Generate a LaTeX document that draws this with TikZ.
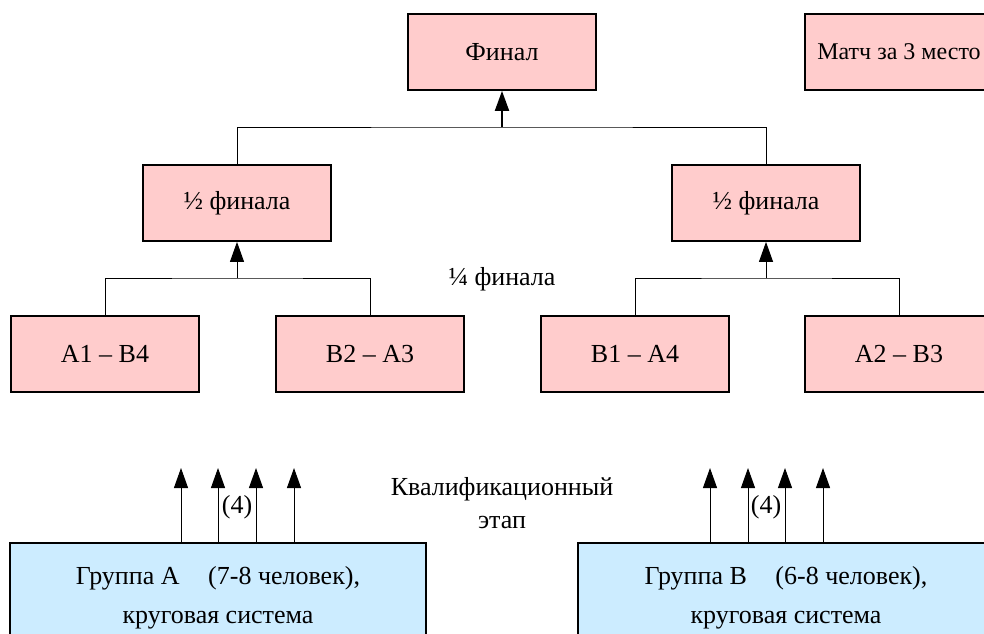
\documentclass[tikz,border=0pt]{standalone}
\usepackage{fontspec}
\setmainfont{Liberation Serif}
\newfontfamily\tnr{Liberation Serif}
\usetikzlibrary{arrows.meta}
\definecolor{pinkfill}{HTML}{FFCCCC}
\definecolor{bluefill}{HTML}{CCECFF}
\tikzset{
  pinkbox/.style={draw=black, line width=1.8pt, fill=pinkfill, minimum width=188pt, minimum height=76pt, inner sep=0pt, font=\tnr\fontsize{26}{30}\selectfont},
  bluebox/.style={draw=black, line width=1.8pt, fill=bluefill, minimum width=416pt, minimum height=110pt, inner sep=0pt, align=center, font=\tnr\fontsize{26}{39}\selectfont},
  conn/.style={line width=1pt},
  arr/.style={line width=1pt, -{Triangle[length=20pt,width=14pt]}},
  arrthick/.style={line width=2pt, -{Triangle[length=20pt,width=14pt]}},
  lbl/.style={inner sep=0pt, font=\tnr\fontsize{26}{30}\selectfont, align=center}
}
\begin{document}
\begin{tikzpicture}[x=1pt,y=-1pt]
\useasboundingbox (0,0) rectangle (984,633);
\clip (0,0) rectangle (984,633);
\fill[white] (0,0) rectangle (984,633);
% nodes
\node[pinkbox] (final) at (502,52) {Финал};
\node[pinkbox, font=\tnr\fontsize{24}{28}\selectfont] (third) at (899,52) {Матч за 3 место};
\node[pinkbox] (h1) at (237,203) {½ финала};
\node[pinkbox] (h2) at (766,203) {½ финала};
\node[pinkbox] (q1) at (105,354) {A1 – B4};
\node[pinkbox] (q2) at (370,354) {B2 – A3};
\node[pinkbox] (q3) at (635,354) {B1 – A4};
\node[pinkbox] (q4) at (899,354) {A2 – B3};
\node[bluebox] (ga) at (218,598) {Группа А\hspace{1.1em}(7-8 человек),\\круговая система};
\node[bluebox] (gb) at (786,598) {Группа В\hspace{1.1em}(6-8 человек),\\круговая система};
% labels
\node[lbl] (quarter) at (502,279) {¼ финала};
\node[lbl] (kval) at (502,489) {Квалификационный};
\node[lbl] (etap) at (502,522) {этап};
\node[lbl] (fourA) at (237,507) {(4)};
\node[lbl] (fourB) at (766,507) {(4)};
% junctions
\coordinate (jf) at (502,127);
\coordinate (j1) at (237,278);
\coordinate (j2) at (766,278);
% tree connectors
\draw[conn] (h1.north) |- (jf) -| (h2.north);
\draw[arrthick] (jf) -- (final.south);
\draw[conn] (q1.north) |- (j1) -| (q2.north);
\draw[arr] (j1) -- (h1.south);
\draw[conn] (q3.north) |- (j2) -| (q4.north);
\draw[arr] (j2) -- (h2.south);
% qualification arrows
\coordinate (ta1) at (181,468);
\coordinate (ta2) at (218,468);
\coordinate (ta3) at (256,468);
\coordinate (ta4) at (294,468);
\coordinate (tb1) at (710,468);
\coordinate (tb2) at (748,468);
\coordinate (tb3) at (785,468);
\coordinate (tb4) at (823,468);
\foreach \t in {ta1,ta2,ta3,ta4}{\draw[arr] (\t |- ga.north) -- (\t);}
\foreach \t in {tb1,tb2,tb3,tb4}{\draw[arr] (\t |- gb.north) -- (\t);}
\end{tikzpicture}
\end{document}
